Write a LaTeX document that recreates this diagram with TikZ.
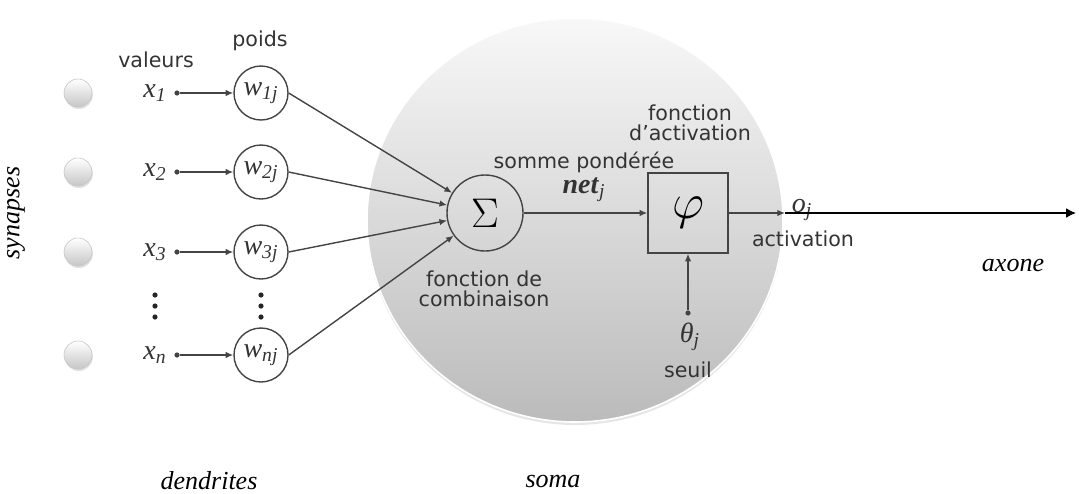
\documentclass[tikz,border=0pt]{standalone}
\usepackage{amsmath}
\usepackage{fontspec}
\setmainfont{Liberation Serif}
\setsansfont{DejaVu Sans}
\usetikzlibrary{positioning, shadows, arrows.meta}

\definecolor{lineGray}{HTML}{444444}
\definecolor{textGray}{HTML}{333333}
\definecolor{somaTop}{HTML}{F8F8F8}
\definecolor{somaBottom}{HTML}{BBBBBB}

\newcommand{\ivar}[2]{\textit{#1}\textsubscript{\textit{#2}}}

\tikzset{
  lbl/.style={font=\sffamily\fontsize{10.3}{10}\selectfont, text=textGray, align=center, inner sep=0pt},
  var/.style={font=\fontsize{14}{14}\selectfont, text=textGray, inner sep=0pt},
  outer/.style={font=\itshape\fontsize{13}{13}\selectfont, inner sep=0pt},
  synball/.style={circle, minimum size=14pt, inner sep=0pt, top color=white, bottom color=gray!45,
    draw=gray!45, line width=0.3pt, drop shadow={shadow xshift=0.4pt, shadow yshift=-1pt, opacity=0.25}},
  weight/.style={circle, draw=lineGray, line width=0.7pt, minimum size=27pt, inner sep=0pt,
    font=\fontsize{14}{14}\selectfont, text=textGray},
  link/.style={draw=lineGray, line width=0.7pt, -{Latex[length=3.8pt,width=3.2pt]}},
  tail/.style={circle, fill=lineGray, inner sep=0pt, minimum size=2.6pt},
}

\begin{document}
\begin{tikzpicture}[x=0.5pt, y=-0.5pt]
  \useasboundingbox (0,0) rectangle (1079,493);

  % soma
  \path[top color=somaTop, bottom color=somaBottom, draw=white, line width=0.8pt,
    drop shadow={shadow xshift=0pt, shadow yshift=-1.5pt, opacity=0.2}]
    (575,220) ellipse [x radius=104pt, y radius=101pt];

  % inputs
  \foreach \i/\y in {1/93, 2/172, 3/252, n/355} {
    \node[synball] (ball\i) at (78,\y) {};
    \node[var] (x\i) at (155,\y) {\ivar{x}{\i}};
    \node[tail] (dot\i) at (177,\y) {};
    \node[weight] (w\i) at (261,\y) {\ivar{w}{\i j}};
    \draw[link] (dot\i) -- (w\i);
  }
  \foreach \yy in {295, 306, 317} {
    \fill[black!85] (155,\yy) circle (1.3pt);
    \fill[black!85] (261,\yy) circle (1.3pt);
  }
  \node[lbl] (valeurs) at (156,60) {valeurs};
  \node[lbl] (poids) at (260,41) {poids};

  % sum and activation
  \node[circle, draw=lineGray, line width=0.7pt, minimum size=38pt, inner sep=0pt,
    font=\fontsize{22}{22}\selectfont] (sigma) at (485,213) {$\Sigma$};
  \node[draw=lineGray, line width=0.7pt, minimum size=40pt, inner sep=0pt,
    font=\fontsize{28}{28}\selectfont] (phi) at (688,213) {$\varphi$};
  \foreach \i in {1,2,3,n}
    \draw[link] (w\i.east) -- (sigma);
  \draw[link] (sigma) -- (phi);

  \node[lbl] (somme) at (584,162) {somme pondérée};
  \node[var] (net) at (584,190) {\ivar{\textbf{net}}{j}};
  \node[lbl] (factiv) at (690,123) {fonction\\d’activation};
  \node[lbl] (fcomb) at (484,289) {fonction de\\combinaison};

  % threshold
  \node[tail] (thetadot) at (688,313) {};
  \draw[link] (thetadot) -- (phi);
  \node[var] (theta) at (690,337) {\ivar{θ}{j}};
  \node[lbl] (seuil) at (688,370) {seuil};

  % output
  \coordinate (out) at (785,213);
  \coordinate (tip) at (1076,213);
  \node[var] (oj) at (802,210) {\ivar{o}{j}};
  \node[lbl] (activ) at (803,239) {activation};
  \draw[link] (phi.east) -- (out);
  \draw[black, line width=0.8pt, -{Latex[length=5pt,width=5pt]}] (out) -- (tip);

  % parts of the neuron
  \node[outer, rotate=90] (synapses) at (16,213) {synapses};
  \node[outer] (dendrites) at (209,481) {dendrites};
  \node[outer] (soma) at (553,481) {soma};
  \node[outer] (axone) at (1013,265) {axone};
\end{tikzpicture}
\end{document}
